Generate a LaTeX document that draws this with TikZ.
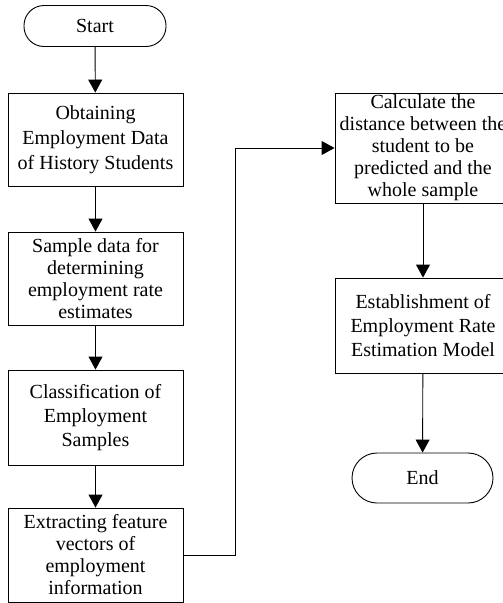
\documentclass[tikz,border=0pt]{standalone}
\usepackage{fontspec}
\setmainfont{Liberation Serif}
\usetikzlibrary{arrows.meta}
\begin{document}
\begin{tikzpicture}[x=1pt,y=1pt,
  every node/.style={font=\fontsize{20}{22}\selectfont, align=center, inner sep=0pt},
  procbox/.style={draw, line width=0.9pt, minimum width=175pt},
  termbox/.style={draw, line width=0.9pt, rounded corners=20pt},
  arr/.style={line width=0.9pt, -{Triangle[width=14pt,length=13pt]}}]
\useasboundingbox (0,0) rectangle (503,-603);
\node[termbox, minimum width=142pt, minimum height=41pt] (start) at (95,-26) {Start};
\node[procbox, minimum height=93pt, font=\fontsize{20}{25}\selectfont] (b1) at (95.5,-139.5) {Obtaining\\Employment Data\\of History Students};
\node[procbox, minimum height=93pt] (b2) at (95.5,-278.5) {Sample data for\\determining\\employment rate\\estimates};
\node[procbox, minimum height=95pt, font=\fontsize{20}{24}\selectfont] (b3) at (95.5,-417.5) {Classification of\\Employment\\Samples};
\node[procbox, minimum height=94pt] (b4) at (95.5,-555) {Extracting feature\\vectors of\\employment\\information};
\node[procbox, minimum width=176pt, minimum height=110pt] (b5) at (423,-148) {Calculate the\\distance between the\\student to be\\predicted and the\\whole sample};
\node[procbox, minimum width=176pt, minimum height=95pt, font=\fontsize{20}{24}\selectfont] (b6) at (423,-325.5) {Establishment of\\Employment Rate\\Estimation Model};
\node[termbox, rounded corners=25pt, minimum width=141pt, minimum height=50pt] (end) at (422.5,-478) {End};
\coordinate (turn) at (235,-555);
\draw[arr] (start) -- (b1);
\draw[arr] (b1) -- (b2);
\draw[arr] (b2) -- (b3);
\draw[arr] (b3) -- (b4);
\draw[arr] (b4.east) -- (turn) |- (b5.west);
\draw[arr] (b5) -- (b6);
\draw[arr] (b6) -- (end);
\end{tikzpicture}
\end{document}
